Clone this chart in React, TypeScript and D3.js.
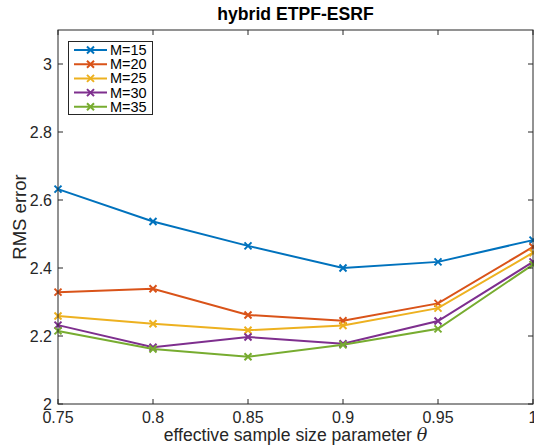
import React, { useEffect, useRef } from "react";
import * as d3 from "d3";

const thetas = [0.75, 0.8, 0.85, 0.9, 0.95, 1.0];
const m15 = [2.632, 2.537, 2.465, 2.400, 2.418, 2.482];
const m20 = [2.329, 2.339, 2.262, 2.245, 2.296, 2.462];
const m25 = [2.259, 2.236, 2.217, 2.231, 2.282, 2.445];
const m30 = [2.232, 2.167, 2.197, 2.177, 2.244, 2.418];
const m35 = [2.215, 2.162, 2.139, 2.174, 2.221, 2.410];
const seriesNames = ["M=15", "M=20", "M=25", "M=30", "M=35"];
const colors = ["#0072BD", "#D95319", "#EDB120", "#7E2F8E", "#77AC30"];
const xTicks = [0.75, 0.8, 0.85, 0.9, 0.95, 1];
const yTicks = [2, 2.2, 2.4, 2.6, 2.8, 3];

const App = () => {
  const svgRef = useRef<SVGSVGElement>(null);

  useEffect(() => {
    const width = 534;
    const height = 445;
    const margin = { top: 30, right: 1, bottom: 41, left: 58 };
    const font = "'Liberation Sans', Arial, sans-serif";
    const allSeries = [m15, m20, m25, m30, m35];

    const svg = d3.select(svgRef.current)
      .attr("width", width)
      .attr("height", height);
    svg.selectAll("*").remove();

    const x = d3.scaleLinear().domain([0.75, 1]).range([margin.left, width - margin.right]);
    const y = d3.scaleLinear().domain([2, 3.1]).range([height - margin.bottom, margin.top]);

    const x0 = x(0.75), x1 = x(1), y0 = y(2), y1 = y(3.1);

    // white background
    svg.append("rect").attr("width", width).attr("height", height).attr("fill", "white");

    // Lines
    const line = d3.line<number>()
      .x((d, i) => x(thetas[i]))
      .y((d) => y(d));

    allSeries.forEach((s, k) => {
      svg.append("path")
        .datum(s)
        .attr("d", line)
        .attr("fill", "none")
        .attr("stroke", colors[k])
        .attr("stroke-width", 2);
      svg.selectAll(null)
        .data(s)
        .enter()
        .append("path")
        .attr("d", (d, i) => {
          const cx = x(thetas[i]), cy = y(d), r = 3.5;
          return `M${cx - r},${cy - r}L${cx + r},${cy + r}M${cx - r},${cy + r}L${cx + r},${cy - r}`;
        })
        .attr("stroke", colors[k])
        .attr("stroke-width", 2)
        .attr("fill", "none");
    });

    // Axes box and ticks
    const axisColor = "#262626";
    const g = svg.append("g");
    g.append("rect")
      .attr("x", x0).attr("y", y1)
      .attr("width", x1 - x0).attr("height", y0 - y1)
      .attr("fill", "none").attr("stroke", axisColor).attr("stroke-width", 1);

    xTicks.forEach((t) => {
      g.append("line").attr("x1", x(t)).attr("x2", x(t)).attr("y1", y0).attr("y2", y0 - 5)
        .attr("stroke", axisColor);
      g.append("line").attr("x1", x(t)).attr("x2", x(t)).attr("y1", y1).attr("y2", y1 + 5)
        .attr("stroke", axisColor);
      g.append("text").attr("x", x(t)).attr("y", y0 + 19)
        .attr("text-anchor", "middle").attr("font-family", font).attr("font-size", 16)
        .attr("fill", axisColor).text(d3.format("")(t));
    });
    yTicks.forEach((t) => {
      g.append("line").attr("x1", x0).attr("x2", x0 + 5).attr("y1", y(t)).attr("y2", y(t))
        .attr("stroke", axisColor);
      g.append("line").attr("x1", x1).attr("x2", x1 - 5).attr("y1", y(t)).attr("y2", y(t))
        .attr("stroke", axisColor);
      g.append("text").attr("x", x0 - 6).attr("y", y(t) + 6)
        .attr("text-anchor", "end").attr("font-family", font).attr("font-size", 16)
        .attr("fill", axisColor).text(d3.format("")(t));
    });

    // Title
    svg.append("text").attr("x", (x0 + x1) / 2).attr("y", 20)
      .attr("text-anchor", "middle").attr("font-family", font).attr("font-size", 17.6)
      .attr("font-weight", "bold").attr("fill", "black").text("hybrid ETPF-ESRF");

    // X label
    const xl = svg.append("text").attr("x", (x0 + x1) / 2).attr("y", 441)
      .attr("text-anchor", "middle").attr("font-family", font).attr("font-size", 17.6)
      .attr("fill", axisColor);
    xl.append("tspan").text("effective sample size parameter ");
    xl.append("tspan").attr("font-style", "italic").attr("font-family", "'DejaVu Serif', serif").text("θ");

    // Y label
    svg.append("text")
      .attr("transform", `translate(26,${(y0 + y1) / 2}) rotate(-90)`)
      .attr("text-anchor", "middle").attr("font-family", font).attr("font-size", 18.5)
      .attr("fill", axisColor).text("RMS error");

    // Legend
    const lg = svg.append("g");
    lg.append("rect").attr("x", 68.5).attr("y", 41.5).attr("width", 84).attr("height", 73)
      .attr("fill", "white").attr("stroke", axisColor);
    seriesNames.forEach((name, k) => {
      const ly = 50 + k * 14.2;
      lg.append("line").attr("x1", 74).attr("x2", 107).attr("y1", ly).attr("y2", ly)
        .attr("stroke", colors[k]).attr("stroke-width", 2);
      const r = 3.5, cx = 90.5;
      lg.append("path")
        .attr("d", `M${cx - r},${ly - r}L${cx + r},${ly + r}M${cx - r},${ly + r}L${cx + r},${ly - r}`)
        .attr("stroke", colors[k]).attr("stroke-width", 2);
      lg.append("text").attr("x", 110).attr("y", ly + 5)
        .attr("font-family", font).attr("font-size", 14.5).attr("fill", "black").text(name);
    });
  }, []);

  return (
    <div>
      <svg ref={svgRef} style={{ position: "absolute", left: 0, top: 0 }}></svg>
    </div>
  );
};

export default App;
